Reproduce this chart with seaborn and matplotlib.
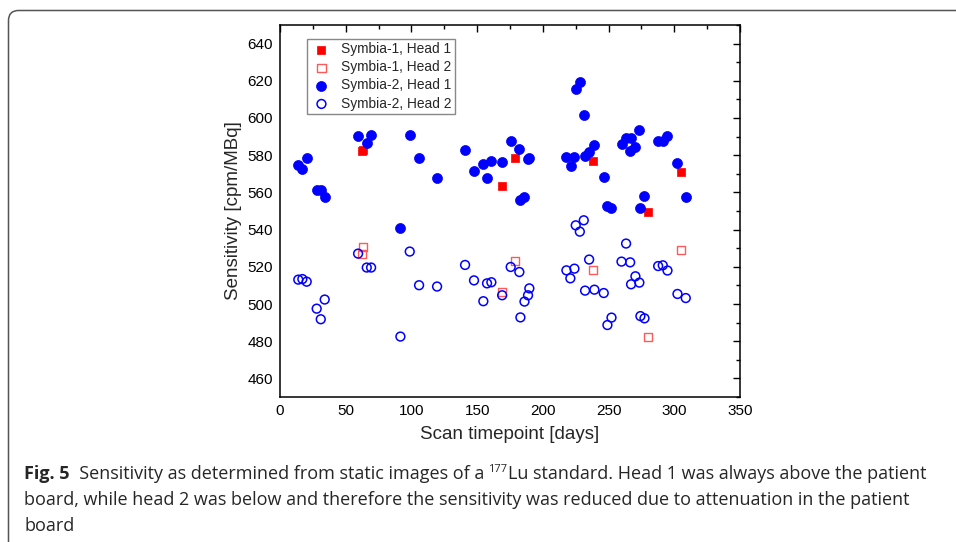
import matplotlib
matplotlib.use('Agg')
import matplotlib.pyplot as plt
import matplotlib.patches as mpatches
from matplotlib.ticker import MultipleLocator
import seaborn as sns

# Symbia-1 (red squares)
s1_h1_days = [62.0, 63.2, 169.0, 178.8, 238.0, 280.1, 305.4]
s1_h1_sens = [582.3, 583.0, 563.4, 578.3, 576.9, 549.5, 571.0]
s1_h2_days = [62.5, 63.2, 169.0, 178.6, 238.0, 280.1, 305.2]
s1_h2_sens = [527.0, 530.6, 506.5, 523.1, 518.3, 482.3, 528.9]

# Symbia-2 (blue circles)
s2_h1_days = [13.9, 17.0, 20.3, 27.9, 31.2, 34.2, 59.4, 66.2, 69.3, 91.3,
              98.7, 105.8, 119.5, 141.0, 147.6, 154.7, 157.8, 160.6, 169.0, 175.5,
              182.1, 182.9, 186.0, 188.7, 189.7, 217.9, 221.2, 224.0, 225.0, 228.3,
              231.1, 232.1, 235.2, 239.2, 246.3, 249.1, 252.2, 260.3, 263.3, 266.4,
              267.4, 270.4, 273.4, 274.2, 277.3, 287.7, 291.2, 294.8, 302.4, 308.7]
s2_h1_sens = [574.7, 572.4, 578.7, 561.5, 561.5, 557.4, 590.3, 586.8, 591.1, 540.9,
              590.7, 578.5, 567.7, 583.0, 571.7, 575.0, 568.0, 576.9, 576.2, 587.6,
              583.2, 556.1, 557.5, 578.2, 578.7, 579.2, 574.4, 579.2, 615.8, 619.6,
              601.5, 579.6, 581.6, 585.3, 568.3, 552.7, 551.8, 586.2, 589.1, 582.1,
              589.1, 584.4, 593.6, 551.6, 558.3, 587.6, 587.6, 590.2, 575.8, 557.5]
s2_h2_days = [13.9, 17.0, 20.3, 27.9, 31.0, 34.0, 59.4, 66.0, 69.3, 91.6,
              98.7, 105.8, 119.5, 140.8, 147.6, 154.7, 157.5, 160.8, 169.0, 175.5,
              182.1, 182.9, 186.0, 188.7, 189.7, 217.9, 220.9, 224.0, 225.0, 228.1,
              231.1, 232.1, 235.2, 239.2, 246.3, 249.1, 252.2, 259.8, 263.3, 266.4,
              267.1, 270.4, 273.4, 274.2, 277.3, 287.7, 291.2, 294.8, 302.4, 308.7]
s2_h2_sens = [513.1, 513.4, 512.0, 497.5, 491.8, 502.4, 527.1, 519.6, 519.6, 482.5,
              528.2, 510.1, 509.4, 521.0, 512.7, 501.5, 511.1, 511.7, 504.7, 519.9,
              517.2, 492.8, 501.3, 504.7, 508.4, 518.1, 513.8, 519.0, 542.3, 538.9,
              545.0, 507.2, 523.9, 507.7, 505.9, 488.7, 492.7, 522.8, 532.5, 522.4,
              510.6, 514.9, 511.5, 493.5, 492.3, 520.4, 520.8, 518.0, 505.4, 503.2]

x_ticks = [0, 50, 100, 150, 200, 250, 300, 350]
y_ticks = [460, 480, 500, 520, 540, 560, 580, 600, 620, 640]

sns.set_style('white')
plt.rcParams['font.family'] = ['Liberation Sans', 'DejaVu Sans']
plt.rcParams['xtick.direction'] = 'in'
plt.rcParams['ytick.direction'] = 'in'

fig = plt.figure(figsize=(9.56, 5.42), dpi=100)
ax = fig.add_axes([0.2929, 0.2675, 0.4812, 0.6864])

sns.scatterplot(x=s1_h1_days, y=s1_h1_sens, marker='s', s=40, color='#ff0000',
                edgecolor='#ff0000', linewidth=0.5, label='Symbia-1, Head 1', ax=ax, zorder=3)
sns.scatterplot(x=s1_h2_days, y=s1_h2_sens, marker='s', s=36, facecolor='none',
                edgecolor='#ff5a5a', linewidth=1.0, label='Symbia-1, Head 2', ax=ax, zorder=3)
sns.scatterplot(x=s2_h1_days, y=s2_h1_sens, marker='o', s=52, color='#0000ff',
                edgecolor='#0000ff', linewidth=0.5, label='Symbia-2, Head 1', ax=ax, zorder=3)
sns.scatterplot(x=s2_h2_days, y=s2_h2_sens, marker='o', s=40, facecolor='none',
                edgecolor='#0000ff', linewidth=1.1, label='Symbia-2, Head 2', ax=ax, zorder=3)

ax.set_xlim(0, 350)
ax.set_ylim(450, 650)
ax.set_xticks(x_ticks)
ax.set_yticks(y_ticks)
ax.xaxis.set_minor_locator(MultipleLocator(25))
ax.yaxis.set_minor_locator(MultipleLocator(10))
ax.tick_params(which='both', top=True, right=True, direction='in', width=1, colors='black')
ax.tick_params(which='major', length=5, labelsize=11, pad=5)
ax.tick_params(which='minor', length=3)
for sp in ax.spines.values():
    sp.set_color('black')
    sp.set_linewidth(1.1)

ax.set_xlabel('Scan timepoint [days]', fontsize=13.5, labelpad=6)
ax.set_ylabel('Sensitivity [cpm/MBq]', fontsize=13.5, labelpad=4)

leg = ax.legend(loc='upper left', bbox_to_anchor=(0.0587, 0.963), borderaxespad=0,
                fontsize=9.9, frameon=True, fancybox=False, framealpha=1,
                edgecolor='#888888', labelspacing=0.3, borderpad=0.25,
                handletextpad=0.6, handlelength=1.6)
leg.get_frame().set_linewidth(1.0)

# outer frame of the figure panel (rounded top-left corner)
frame = mpatches.FancyBboxPatch((0.085, -0.5), 10.0, 5.315 + 0.5,
                                boxstyle='round,pad=0,rounding_size=0.1',
                                transform=fig.dpi_scale_trans, fill=False,
                                edgecolor='#555555', linewidth=1.1)
fig.patches.append(frame)

# caption
cap_font = ['Open Sans', 'DejaVu Sans']
cap_size = 13
renderer = fig.canvas.get_renderer()


def put_pieces(pieces, y_px, x_px=24):
    x = x_px
    for txt, kw in pieces:
        yy = y_px + kw.pop('dy', 0)
        t = fig.text(x / 956, 1 - yy / 542, txt, ha='left', va='baseline',
                     family=cap_font, **kw)
        bb = t.get_window_extent(renderer)
        x += bb.width


put_pieces([('Fig. 5', dict(fontsize=cap_size, fontweight='bold')),
            ('  Sensitivity as determined from static images of a ', dict(fontsize=cap_size)),
            ('177', dict(fontsize=cap_size * 0.62, dy=-7)),
            ('Lu standard. Head 1 was always above the patient', dict(fontsize=cap_size))],
           479)
put_pieces([('board, while head 2 was below and therefore the sensitivity was reduced due to attenuation in the patient',
             dict(fontsize=cap_size))], 505)
put_pieces([('board', dict(fontsize=cap_size))], 531)

fig.savefig('out.png', dpi=100)
